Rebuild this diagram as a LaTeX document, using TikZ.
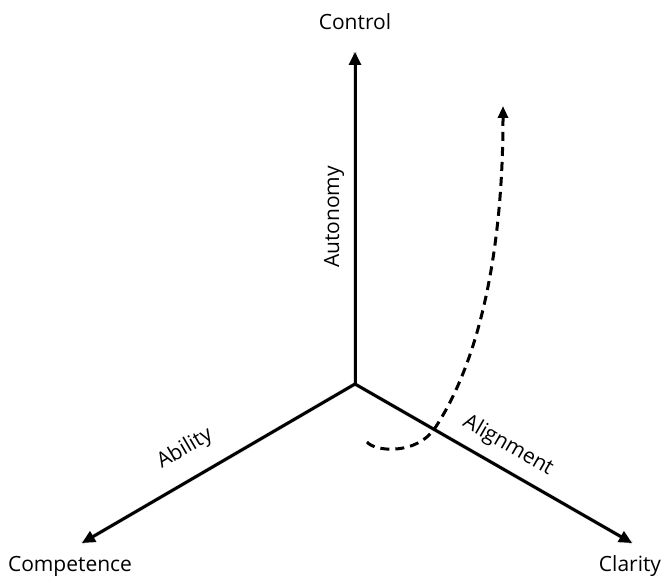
\documentclass[tikz,border=0pt]{standalone}
\usepackage{fontspec}
\setmainfont{Open Sans}
\usetikzlibrary{arrows.meta}
\begin{document}
\begin{tikzpicture}[x=1pt,y=-1pt,
  axis/.style={line width=3pt,-{Triangle[length=13pt,width=12pt]}},
  curve/.style={line width=3pt,dash pattern=on 9pt off 6pt,-{Triangle[length=12pt,width=10pt]}},
  shade/.style={draw=black!40,opacity=0.35,line width=4pt},
  lbl/.style={font=\fontsize{21}{24}\selectfont,inner sep=0pt}]
\useasboundingbox (0,0) rectangle (666,580);

% axis end points
\coordinate (o) at (355,384);
\coordinate (top) at (355,52);
\coordinate (left) at (82,543);
\coordinate (right) at (632,543);
\coordinate (c0) at (367,442);
\coordinate (c1) at (435,428);
\coordinate (c2) at (503,106);

% soft drop shadow
\begin{scope}[xshift=1.5pt,yshift=-1.5pt]
  \draw[shade] (o) -- (top);
  \draw[shade] (o) -- (left);
  \draw[shade] (o) -- (right);
\end{scope}

% axes
\draw[axis] (o) -- (top);
\draw[axis] (o) -- (left);
\draw[axis] (o) -- (right);

% dashed trajectory
\draw[curve] (c0) .. controls (375,452) and (417,455) .. (c1)
  .. controls (480,360) and (503,250) .. (c2);

% end labels
\node[lbl] (ctrl) at (355,22) {Control};
\node[lbl] (comp) at (70,566) {Competence};
\node[lbl] (clar) at (630,566) {Clarity};

% axis labels
\node[lbl,rotate=90] (auto) at (334,217) {Autonomy};
\node[lbl,rotate=30.2] (abil) at (185,449) {Ability};
\node[lbl,rotate=-29.9] (alig) at (508,446) {Alignment};
\end{tikzpicture}
\end{document}
